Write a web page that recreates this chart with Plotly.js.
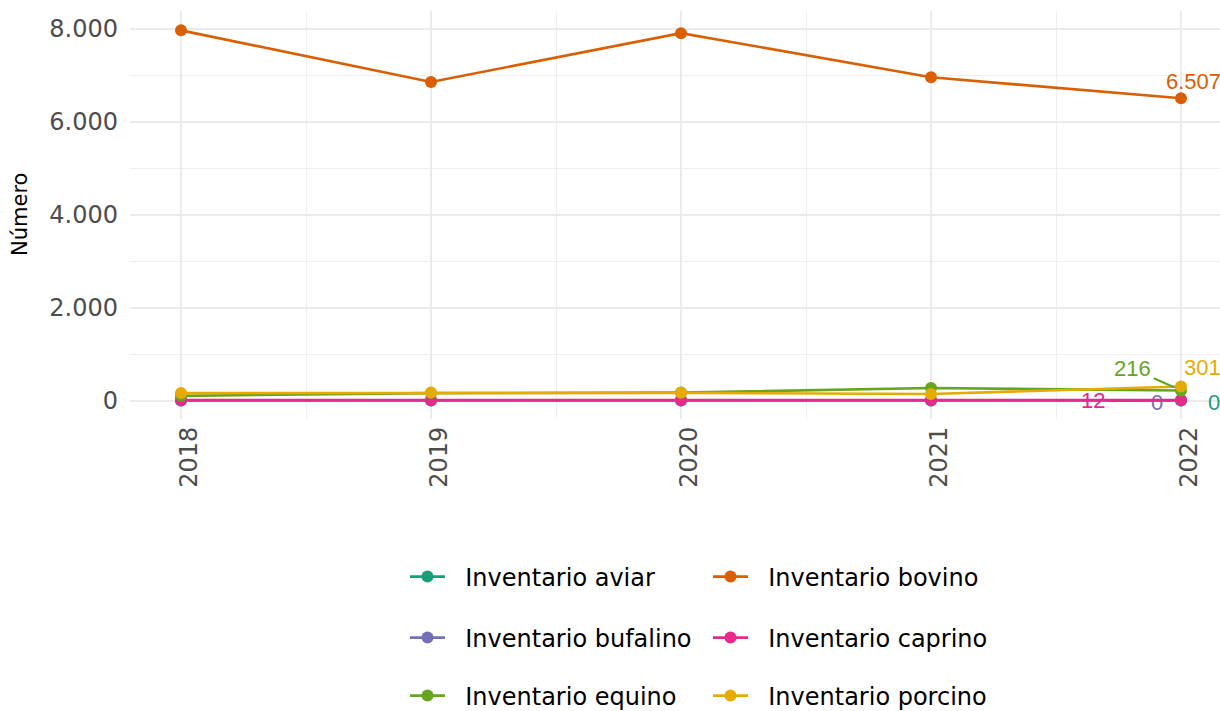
<!DOCTYPE html>
<html>
<head>
<meta charset="utf-8">
<script src="https://cdn.plot.ly/plotly-3.0.1.min.js"></script>
<style>html,body{margin:0;padding:0;background:#fff;}#chart{width:1220px;height:711px;}</style>
</head>
<body>
<div id="chart"></div>
<script>
const years = [2018, 2019, 2020, 2021, 2022];
const seriesNames = ["Inventario aviar", "Inventario bovino", "Inventario bufalino", "Inventario caprino", "Inventario equino", "Inventario porcino"];
const aviar = [0, 0, 0, 0, 0];
const bovino = [7970, 6860, 7910, 6960, 6507];
const bufalino = [0, 0, 0, 0, 0];
const caprino = [10, 10, 10, 10, 12];
const equino = [100, 160, 170, 270, 216];
const porcino = [160, 170, 165, 140, 301];
const colors = ["#1B9E77", "#D95F02", "#7570B3", "#E7298A", "#66A61E", "#E6AB02"];

const values = [aviar, bovino, bufalino, caprino, equino, porcino];
const legendIds = ["legend", "legend2", "legend3", "legend4", "legend5", "legend6"];

const traces = values.map((v, i) => ({
  x: years, y: v, name: "\u00a0\u00a0" + seriesNames[i], type: "scatter", mode: "lines+markers",
  line: {color: colors[i], width: 2.6},
  marker: {color: colors[i], size: 12},
  legend: legendIds[i],
  cliponaxis: false,
  hoverinfo: "x+y"
}));

function fmt(n) { return String(n).replace(/\B(?=(\d{3})+(?!\d))/g, "."); }

// label offsets (pixels) for the last point of each series
const labelStyle = [
  {xshift: 33, yshift: -2, arrow: false},
  {xshift: 12, yshift: 17, arrow: false},
  {xshift: -24, yshift: -2, arrow: false},
  {ax: -88, ay: 1, arrow: true},
  {ax: -49, ay: -22, arrow: true},
  {xshift: 21, yshift: 19, arrow: false}
];
const last = years.length - 1;
const annotations = values.map((v, i) => {
  const s = labelStyle[i];
  const a = {
    x: years[last], y: v[last], xref: "x", yref: "y",
    text: fmt(v[last]),
    font: {family: "Liberation Sans, Arial, sans-serif", size: 22, color: colors[i]},
    showarrow: s.arrow
  };
  if (s.arrow) {
    Object.assign(a, {ax: s.ax, ay: s.ay, arrowhead: 0, arrowwidth: 2.2, arrowcolor: colors[i], standoff: 7, startstandoff: 2});
  } else {
    Object.assign(a, {xshift: s.xshift, yshift: s.yshift});
  }
  return a;
});
// y axis title
annotations.push({
  text: "Número", xref: "paper", yref: "paper", x: (20 - 130) / 1090, y: 0.5,
  xanchor: "center", yanchor: "middle", textangle: -90, showarrow: false,
  font: {family: "DejaVu Sans, sans-serif", size: 21, color: "#000"}
});

const legendPos = [
  [405, 134], [708, 134],
  [405, 73], [708, 73],
  [405, 15], [708, 15]
];
const legendFont = {family: "DejaVu Sans, sans-serif", size: 24, color: "#000"};

const layout = {
  width: 1220, height: 711,
  paper_bgcolor: "#fff", plot_bgcolor: "#fff",
  separators: ",.",
  margin: {l: 130, r: 0, t: 11, b: 291.5, autoexpand: false},
  font: {family: "DejaVu Sans, sans-serif"},
  xaxis: {
    range: [2017.796, 2022.156],
    tickmode: "array", tickvals: years, ticktext: years.map(String),
    tickangle: -90,
    tickfont: {family: "DejaVu Sans, sans-serif", size: 24, color: "#4D4D4D"},
    ticklabelshift: 8, ticklabelstandoff: 2,
    showgrid: true, gridcolor: "#EBEBEB", gridwidth: 2,
    minor: {tickmode: "array", tickvals: [2018.5, 2019.5, 2020.5, 2021.5], showgrid: true, gridcolor: "#EFEFEF", gridwidth: 1},
    zeroline: false, showline: false, ticks: "", automargin: false
  },
  yaxis: {
    range: [-398, 8387],
    tickmode: "array", tickvals: [0, 2000, 4000, 6000, 8000],
    tickformat: ",",
    tickfont: {family: "DejaVu Sans, sans-serif", size: 24, color: "#4D4D4D"},
    ticklabelstandoff: 11,
    showgrid: true, gridcolor: "#EBEBEB", gridwidth: 2,
    minor: {tickmode: "array", tickvals: [1000, 3000, 5000, 7000], showgrid: true, gridcolor: "#EFEFEF", gridwidth: 1},
    zeroline: false, showline: false, ticks: "", automargin: false
  },
  annotations: annotations,
  showlegend: true
};
legendIds.forEach((id, i) => {
  layout[id] = {
    xref: "container", yref: "container",
    x: legendPos[i][0] / 1220, y: legendPos[i][1] / 711,
    xanchor: "left", yanchor: "middle",
    font: legendFont, bgcolor: "rgba(0,0,0,0)", borderwidth: 0,
    itemwidth: 35
  };
});

Plotly.newPlot("chart", traces, layout, {displayModeBar: false, responsive: false});
</script>
</body>
</html>
